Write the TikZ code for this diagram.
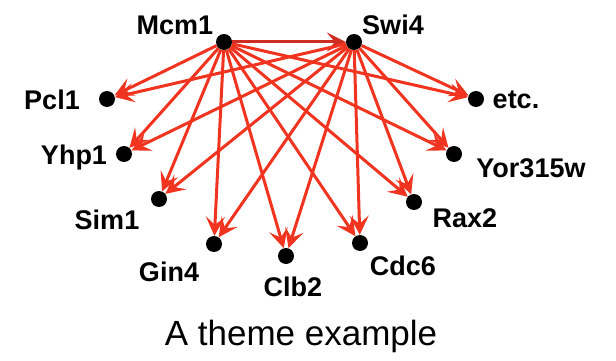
\documentclass[tikz,border=0pt]{standalone}
\usepackage{fontspec}
\setmainfont{Liberation Sans}
\usepackage{tikz}
\usetikzlibrary{arrows.meta,backgrounds}
\definecolor{edgered}{RGB}{240,52,32}
\definecolor{topred}{RGB}{205,45,35}
\tikzset{
  gene/.style={circle,fill=black,inner sep=0pt,minimum size=16pt},
  genename/.style={inner sep=0pt,font=\fontsize{27}{29}\selectfont\bfseries},
  regarrow/.style={draw=edgered,line width=3pt,
    -{Stealth[length=19pt,width=19pt,inset=8pt]}}
}
\begin{document}
\begin{tikzpicture}[x=1pt,y=-1pt]
\useasboundingbox (0,0) rectangle (616,361);
\node[gene] (mcm1) at (224,42) {};
\node[gene] (swi4) at (354,42) {};
\node[gene] (pcl1) at (107,99) {};
\node[gene] (yhp1) at (124,154) {};
\node[gene] (sim1) at (159,199) {};
\node[gene] (gin4) at (214,244) {};
\node[gene] (clb2) at (286,256) {};
\node[gene] (cdc6) at (360,243) {};
\node[gene] (rax2) at (414,202) {};
\node[gene] (yor315w) at (454,154) {};
\node[gene] (etc) at (476,99) {};
\node[genename] (mcm1-l) at (175,25) {Mcm1};
\node[genename] (swi4-l) at (393,25) {Swi4};
\node[genename] (pcl1-l) at (52,100) {Pcl1};
\node[genename] (yhp1-l) at (74,158) {Yhp1};
\node[genename] (sim1-l) at (107,220) {Sim1};
\node[genename] (gin4-l) at (169,272) {Gin4};
\node[genename] (clb2-l) at (293,287) {Clb2};
\node[genename] (cdc6-l) at (403,266) {Cdc6};
\node[genename] (rax2-l) at (465,218) {Rax2};
\node[genename] (yor315w-l) at (531,168) {Yor315w};
\node[genename] (etc-l) at (516,100) {etc.};
\node[font=\fontsize{35}{37}\selectfont] (caption) at (301,336) {A theme example};
\begin{scope}[on background layer]
\draw[regarrow,draw=topred] (mcm1) -- (swi4);
\foreach \src in {mcm1,swi4}
  \foreach \dst in {pcl1,yhp1,sim1,gin4,clb2,cdc6,rax2,yor315w,etc}
    \draw[regarrow] (\src) -- (\dst);
\end{scope}
\end{tikzpicture}
\end{document}
